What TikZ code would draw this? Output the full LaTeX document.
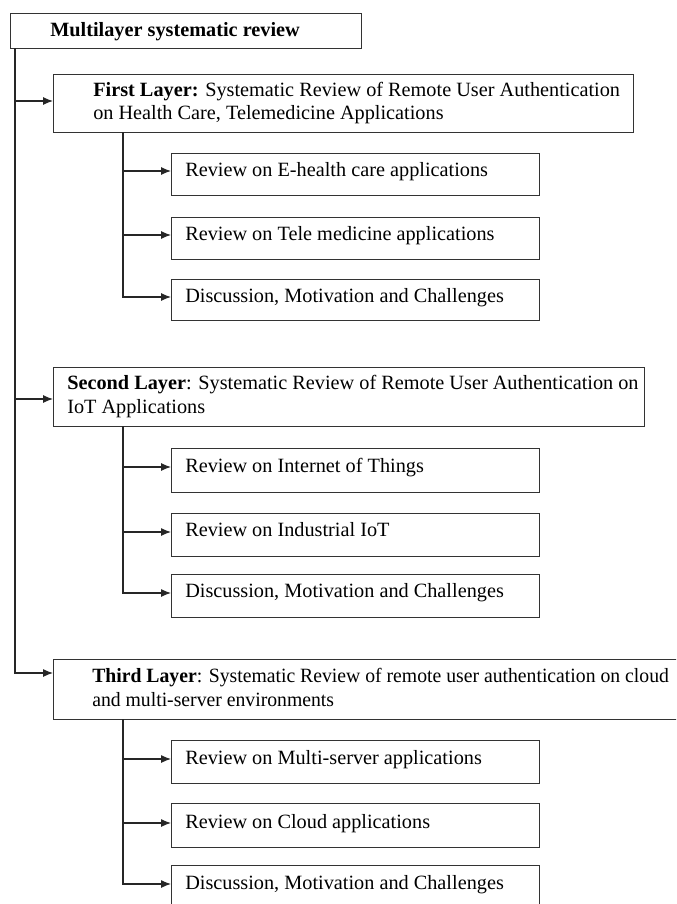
\documentclass[tikz,border=0pt]{standalone}
\usepackage{fontspec}
\setmainfont{Liberation Serif}
\usetikzlibrary{arrows.meta,calc}
\tikzset{
  box/.style={draw=black!80, line width=0.9pt, anchor=north west, inner sep=0pt},
  txt/.style={anchor=base west, inner sep=0pt, font=\fontsize{15.2}{17.25}\selectfont},
  link/.style={draw=black!85, line width=0.8pt},
  arr/.style={link, -{Latex[length=7.5pt,width=6pt]}}
}
\newcommand{\mkbox}[5]{% name, x1, y1, x2, y2
  \node[box, minimum width={(#4-#2)*0.75pt}, minimum height={(#5-#3)*0.75pt}] (#1) at (#2,#3) {};}
\begin{document}
\begin{tikzpicture}[x=0.75pt,y=-0.75pt]
\useasboundingbox (0,0) rectangle (676,904);
\clip (0,0) rectangle (676,904);
\fill[white] (0,0) rectangle (676,904);

% top box
\mkbox{top}{10}{13}{361}{48}
\node[txt, font=\fontsize{15.2}{17.25}\selectfont\bfseries] (topt) at (50,36) {Multilayer systematic review};

% layer boxes
\mkbox{L1}{53}{74}{633}{132}
\node[txt] (L1a) at (93,96) {\textbf{First Layer:} Systematic Review of Remote User Authentication};
\node[txt] (L1b) at (93,119) {on Health Care, Telemedicine Applications};

\mkbox{L2}{53}{367}{644}{426}
\node[txt] (L2a) at (67,389) {\textbf{Second Layer}: Systematic Review of Remote User Authentication on};
\node[txt] (L2b) at (67,413) {IoT Applications};

\mkbox{L3}{53}{659}{690}{719}
\node[txt, font=\fontsize{15.2}{17.25}\selectfont\addfontfeatures{FakeStretch=0.972}] (L3a) at (92,682) {\textbf{Third Layer}: Systematic Review of remote user authentication on cloud};
\node[txt, font=\fontsize{15.2}{17.25}\selectfont\addfontfeatures{FakeStretch=0.972}] (L3b) at (92,706) {and multi-server environments};

% sub boxes
\mkbox{A1}{171}{153}{539}{195}
\node[txt] (A1t) at (185,176) {Review on E-health care applications};
\mkbox{A2}{171}{217}{539}{259}
\node[txt] (A2t) at (185,240) {Review on Tele medicine applications};
\mkbox{A3}{171}{279}{539}{320}
\node[txt] (A3t) at (185,302) {Discussion, Motivation and Challenges};

\mkbox{B1}{171}{448}{539}{492}
\node[txt] (B1t) at (185,472) {Review on Internet of Things};
\mkbox{B2}{171}{513}{539}{556}
\node[txt] (B2t) at (185,536) {Review on Industrial IoT};
\mkbox{B3}{171}{574}{539}{617}
\node[txt] (B3t) at (185,597) {Discussion, Motivation and Challenges};

\mkbox{C1}{171}{740}{539}{783}
\node[txt] (C1t) at (185,764) {Review on Multi-server applications};
\mkbox{C2}{171}{803}{539}{847}
\node[txt] (C2t) at (185,828) {Review on Cloud applications};
\mkbox{C3}{171}{865}{539}{920}
\node[txt] (C3t) at (185,889) {Discussion, Motivation and Challenges};

% trunk
\coordinate (m0) at (15,48);
\draw[arr] (m0) |- ($(L1.north west)+(0,27)$);
\draw[arr] (m0) |- ($(L2.north west)+(0,32)$);
\draw[arr] (m0) |- ($(L3.north west)+(0,14)$);

% branches
\coordinate (a0) at (123,132);
\draw[arr] (a0) |- ($(A1.north west)+(0,18)$);
\draw[arr] (a0) |- ($(A2.north west)+(0,18)$);
\draw[arr] (a0) |- ($(A3.north west)+(0,18)$);

\coordinate (b0) at (123,426);
\draw[arr] (b0) |- ($(B1.north west)+(0,19)$);
\draw[arr] (b0) |- ($(B2.north west)+(0,19)$);
\draw[arr] (b0) |- ($(B3.north west)+(0,19)$);

\coordinate (c0) at (123,719);
\draw[arr] (c0) |- ($(C1.north west)+(0,19)$);
\draw[arr] (c0) |- ($(C2.north west)+(0,20)$);
\draw[arr] (c0) |- ($(C3.north west)+(0,19)$);
\end{tikzpicture}
\end{document}
